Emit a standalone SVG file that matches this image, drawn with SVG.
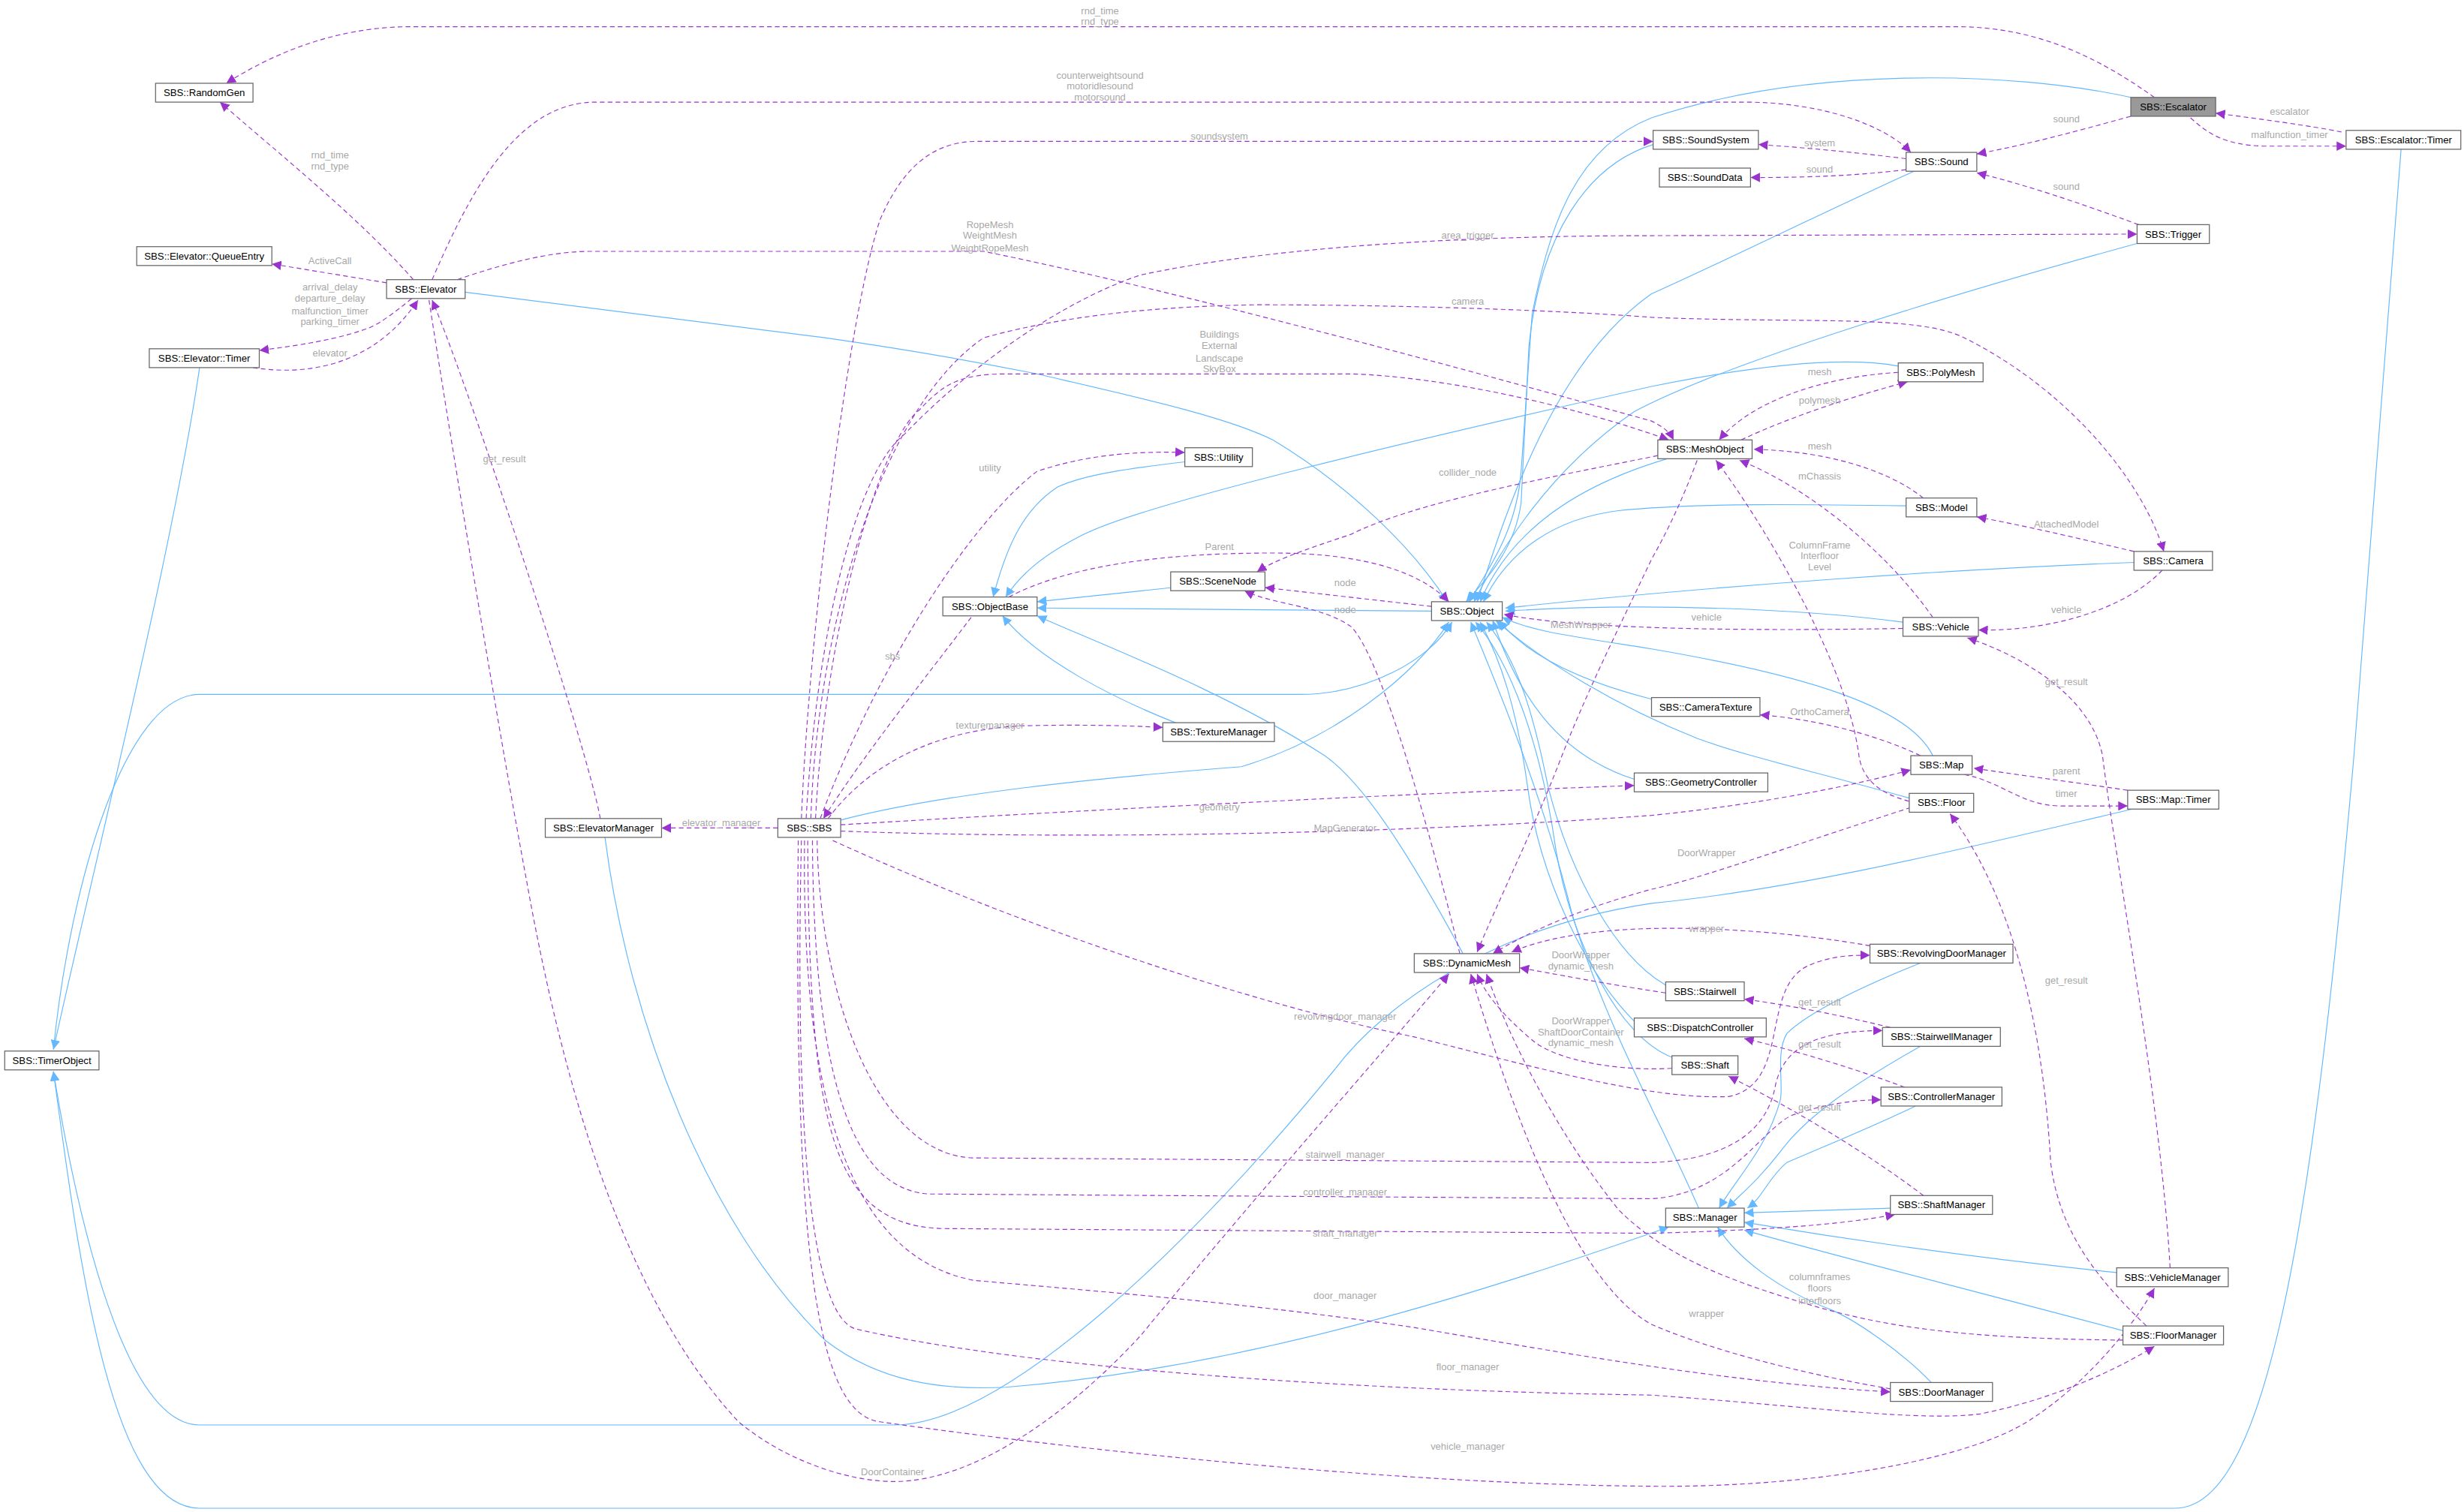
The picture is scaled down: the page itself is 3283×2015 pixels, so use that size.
<svg xmlns="http://www.w3.org/2000/svg" width="3283" height="2015" viewBox="0 0 3283 2015">
<style>
.n rect{fill:#fff;stroke:#666;stroke-width:0.6}
.n text{font-family:"Liberation Sans",Arial,sans-serif;font-size:6.3px;fill:#000;text-anchor:middle}
.b{fill:none;stroke:#63b8ff;stroke-width:0.55;marker-end:url(#ab)}
.u{fill:none;stroke:#9a32cd;stroke-width:0.55;stroke-dasharray:3,2;marker-end:url(#ap)}
.l{font-family:"Liberation Sans",Arial,sans-serif;font-size:6.2px;fill:#a8a8a8;text-anchor:middle}
</style>
<defs>
<marker id="ab" markerUnits="userSpaceOnUse" viewBox="0 0 10 10" refX="10" refY="5" markerWidth="6" markerHeight="6" orient="auto"><path d="M0,0L10,5L0,10z" fill="#63b8ff"/></marker>
<marker id="ap" markerUnits="userSpaceOnUse" viewBox="0 0 10 10" refX="10" refY="5" markerWidth="6" markerHeight="6" orient="auto"><path d="M0,0L10,5L0,10z" fill="#9a32cd"/></marker>
</defs>
<rect width="3283" height="2015" fill="#fff"/>
<g transform="scale(2.0937)">
<g id="edges">
<!-- inheritance -->
<path class="b" d="M296,186 L525,215 C560,220 610,228 660,238 C720,252 780,265 810,280 C860,310 900,350 921,383"/>
<path class="b" d="M1356,62 C1280,45 1150,42 1051,75 C1000,95 985,150 975,200 L968,300 C965,340 945,365 935,383"/>
<path class="b" d="M1052,92 C1010,105 980,150 973,220 L968,320 C964,350 945,370 933,383"/>
<path class="b" d="M1218,109 C1150,140 1100,165 1051,187 C990,230 960,320 940,383"/>
<path class="b" d="M1360,155 C1250,185 1100,230 1040,262 C985,300 955,350 938,383"/>
<path class="b" d="M1208,233 C1170,226 1110,234 1051,246 C900,280 730,320 690,340 C660,355 648,368 640,380"/>
<path class="b" d="M1061,292 C1000,310 960,340 942,383"/>
<path class="b" d="M1213,322 C1150,321 1080,320 1030,325 C990,330 960,350 944,383"/>
<path class="b" d="M1358,358 C1250,362 1100,372 958,387"/>
<path class="b" d="M1211,396 C1150,388 1050,383 958,389"/>
<path class="b" d="M1051,445 C1000,432 970,415 954,395"/>
<path class="b" d="M1040,496 C990,480 965,440 950,395"/>
<path class="b" d="M1230,481 C1215,450 1150,430 1051,413 C1000,405 975,402 956,393"/>
<path class="b" d="M1215,508 C1150,490 1110,481 1080,470 C1030,450 980,420 952,395"/>
<path class="b" d="M1060,627 C1030,610 1000,560 985,500 C975,450 965,420 946,396"/>
<path class="b" d="M1040,650 C1010,620 980,560 972,500 C965,450 955,420 942,396"/>
<path class="b" d="M1064,673 C1030,660 1000,600 990,540 C980,470 960,420 939,396"/>
<path class="b" d="M1081,769 C1060,720 1020,650 1000,580 C980,500 950,430 936,396"/>
<path class="b" d="M911,389 L660,387"/>
<path class="b" d="M746,374 L660,383"/>
<path class="b" d="M754,294 C720,298 690,302 673,310 C650,325 640,350 632,380"/>
<path class="b" d="M748,460 C710,445 660,420 638,392"/>
<path class="b" d="M535,522 C600,505 700,495 790,488 C850,470 900,430 922,396"/>
<path class="b" d="M931,607 C900,550 870,500 843,481 C780,440 700,410 660,392"/>
<path class="b" d="M127,234 C110,350 60,550 34,668"/>
<path class="b" d="M34,668 C45,560 80,442 127,442 L827,442 C870,442 910,420 924,396"/>
<path class="b" d="M1528,95 L1498,481 C1470,800 1440,960 1384,960 L127,960 C70,960 50,800 34,682"/>
<path class="b" d="M1357,515 C1250,540 1150,565 1051,575 C950,590 880,640 850,680 C760,790 640,907 569,907 L127,907 C80,907 50,780 34,682"/>
<path class="b" d="M385,533 C400,650 450,780 525,853 C560,880 600,885 640,883 C800,870 950,820 1062,781"/>
<path class="b" d="M1222,613 C1180,630 1150,645 1137,658 C1130,670 1135,690 1133,700 C1125,730 1105,750 1094,769"/>
<path class="b" d="M1222,666 C1180,690 1150,710 1133,733 C1120,750 1108,760 1099,769"/>
<path class="b" d="M1219,704 C1190,718 1160,730 1137,740 C1125,750 1122,762 1112,769"/>
<path class="b" d="M1203,769 L1110,772"/>
<path class="b" d="M1347,810 C1250,800 1170,788 1110,778"/>
<path class="b" d="M1351,847 C1250,820 1170,800 1110,783"/>
<path class="b" d="M1229,880 C1210,860 1180,840 1166,834 C1130,820 1105,800 1093,781"/>
<!-- usage -->
<path class="u" d="M1371,62 C1340,40 1300,17 1245,17 L261,17 C220,17 180,30 144,53"/>
<path class="u" d="M263,178 C230,140 180,100 140,65"/>
<path class="u" d="M275,178 C300,120 330,65 379,65 L1110,65 C1160,65 1200,80 1216,97"/>
<path class="u" d="M246,180 L173,168"/>
<path class="u" d="M262,190 C250,200 240,207 234,209 C215,216 190,220 165,223"/>
<path class="u" d="M161,234 C200,240 240,230 266,191"/>
<path class="u" d="M291,178 C320,168 350,160 375,160 L626,160 C750,185 950,240 1051,268 C1057,271 1062,274 1065,280"/>
<path class="u" d="M382,521 C375,480 300,250 275,191"/>
<path class="u" d="M273,191 C290,300 320,480 335,560 C360,700 400,830 470,905 C500,930 540,943 569,943 C620,943 680,900 726,850 C800,760 880,670 922,620"/>
<path class="u" d="M510,521 C515,400 540,200 560,140 C575,105 595,90 622,90 L1052,90"/>
<path class="u" d="M513,521 C520,400 545,300 576,276 C620,230 680,190 726,175 C820,155 950,150 1051,150 L1360,149"/>
<path class="u" d="M516,521 C520,400 560,260 626,215 C680,200 740,195 800,194 C900,194 1000,198 1051,202 C1150,206 1220,200 1250,215 C1320,250 1365,310 1377,351"/>
<path class="u" d="M519,521 C525,400 560,280 585,261 C600,245 610,238 640,238 L860,238 C920,240 1000,258 1062,280"/>
<path class="u" d="M522,521 C560,420 620,330 660,300 C690,290 720,287 754,288"/>
<path class="u" d="M618,393 C590,430 550,480 524,521"/>
<path class="u" d="M642,380 C680,360 740,352 810,352 C870,352 905,365 922,383"/>
<path class="u" d="M911,386 L805,374"/>
<path class="u" d="M929,607 C910,530 880,420 860,399 C840,385 810,385 792,376"/>
<path class="u" d="M1055,290 C980,305 900,320 860,340 C830,350 810,357 800,364"/>
<path class="u" d="M527,521 C550,490 590,465 650,462 C690,461 720,462 740,463"/>
<path class="u" d="M535,525 C700,515 900,505 1040,500"/>
<path class="u" d="M535,529 C700,535 900,530 1051,519 C1120,512 1180,500 1216,490"/>
<path class="u" d="M495,527 L421,527"/>
<path class="u" d="M530,535 C650,590 800,640 900,660 C980,680 1050,700 1100,698 C1140,690 1120,630 1150,615 C1165,608 1180,608 1190,608"/>
<path class="u" d="M520,535 C522,640 560,735 619,737 L1051,740 C1100,738 1125,720 1130,690 C1135,670 1150,656 1198,656"/>
<path class="u" d="M517,535 C518,680 540,758 592,760 L1051,763 C1100,760 1120,720 1140,710 C1160,703 1180,700 1197,700"/>
<path class="u" d="M514,535 C515,720 530,780 600,782 L1051,785 C1120,783 1170,780 1206,773"/>
<path class="u" d="M512,535 C510,700 540,800 620,815 C700,822 800,830 900,845 C1000,862 1100,880 1203,886"/>
<path class="u" d="M510,535 C505,750 520,840 545,846 C650,870 850,885 1051,888 C1150,895 1220,905 1260,900 C1310,890 1350,870 1371,857"/>
<path class="u" d="M508,535 C505,800 520,900 560,905 C700,925 900,945 1051,946 C1150,947 1250,930 1290,905 C1330,880 1360,840 1371,820"/>
<path class="u" d="M1190,602 C1150,595 1100,590 1051,591 C1010,592 980,598 962,606"/>
<path class="u" d="M1216,514 C1150,535 1080,560 1051,566 C1000,580 970,595 950,607"/>
<path class="u" d="M1060,632 C1020,626 990,620 967,616"/>
<path class="u" d="M1064,680 C1030,682 990,675 975,662 C955,645 945,632 940,620"/>
<path class="u" d="M1080,293 C1070,320 1060,340 1051,356 C1030,400 1010,440 994,481 C975,530 955,570 940,606"/>
<path class="u" d="M1351,853 C1250,852 1200,845 1150,830 C1100,815 1060,800 1030,770 C990,720 960,660 946,620"/>
<path class="u" d="M1203,884 C1150,875 1090,860 1051,843 C1000,815 960,700 936,620"/>
<path class="u" d="M1215,510 C1195,505 1185,495 1183,481 C1175,420 1120,330 1092,293"/>
<path class="u" d="M1230,393 C1200,350 1150,310 1107,293"/>
<path class="u" d="M1224,317 C1200,298 1160,287 1116,286"/>
<path class="u" d="M1208,237 C1160,240 1115,255 1094,280"/>
<path class="u" d="M1108,280 C1140,265 1180,252 1214,243"/>
<path class="u" d="M1358,351 C1320,342 1290,335 1258,329"/>
<path class="u" d="M1376,363 C1350,390 1300,402 1259,401"/>
<path class="u" d="M1211,400 C1100,402 1000,400 957,391"/>
<path class="u" d="M1222,481 C1200,470 1160,458 1120,455"/>
<path class="u" d="M1354,503 C1320,498 1290,494 1256,489"/>
<path class="u" d="M1250,493 C1275,498 1285,512 1310,513 L1354,513"/>
<path class="u" d="M1381,807 C1375,700 1345,540 1338,481 C1330,440 1280,415 1252,406"/>
<path class="u" d="M1366,844 C1330,810 1310,780 1305,740 C1300,650 1280,570 1241,518"/>
<path class="u" d="M1203,654 C1170,646 1140,640 1110,636"/>
<path class="u" d="M1212,692 C1180,680 1140,668 1110,661"/>
<path class="u" d="M1224,761 C1190,735 1140,705 1100,685"/>
<path class="u" d="M1356,74 C1320,84 1290,92 1258,98"/>
<path class="u" d="M1490,84 C1470,80 1440,76 1410,72"/>
<path class="u" d="M1394,75 C1405,85 1415,92 1440,93 L1493,93"/>
<path class="u" d="M1213,101 C1180,97 1150,94 1119,92"/>
<path class="u" d="M1213,108 C1180,112 1150,113 1114,113"/>
<path class="u" d="M1361,143 C1320,128 1290,118 1258,110"/>

<text class="l" x="700" y="9">rnd_time</text><text class="l" x="700" y="16">rnd_type</text>
<text class="l" x="210" y="101">rnd_time</text><text class="l" x="210" y="108">rnd_type</text>
<text class="l" x="700" y="50">counterweightsound</text><text class="l" x="700" y="57">motoridlesound</text><text class="l" x="700" y="64">motorsound</text>
<text class="l" x="210" y="168">ActiveCall</text>
<text class="l" x="210" y="185">arrival_delay</text><text class="l" x="210" y="192">departure_delay</text><text class="l" x="210" y="200">malfunction_timer</text><text class="l" x="210" y="207">parking_timer</text>
<text class="l" x="210" y="227">elevator</text>
<text class="l" x="630" y="145">RopeMesh</text><text class="l" x="630" y="152">WeightMesh</text><text class="l" x="630" y="160">WeightRopeMesh</text>
<text class="l" x="321" y="294">get_result</text>
<text class="l" x="568" y="939">DoorContainer</text>
<text class="l" x="776" y="89">soundsystem</text>
<text class="l" x="934" y="152">area_trigger</text>
<text class="l" x="934" y="194">camera</text>
<text class="l" x="776" y="215">Buildings</text><text class="l" x="776" y="222">External</text><text class="l" x="776" y="230">Landscape</text><text class="l" x="776" y="237">SkyBox</text>
<text class="l" x="630" y="300">utility</text>
<text class="l" x="568" y="420">sbs</text>
<text class="l" x="776" y="350">Parent</text>
<text class="l" x="856" y="373">node</text>
<text class="l" x="856" y="390">node</text>
<text class="l" x="934" y="303">collider_node</text>
<text class="l" x="630" y="464">texturemanager</text>
<text class="l" x="776" y="516">geometry</text>
<text class="l" x="856" y="529">MapGenerator</text>
<text class="l" x="459" y="526">elevator_manager</text>
<text class="l" x="856" y="649">revolvingdoor_manager</text>
<text class="l" x="856" y="737">stairwell_manager</text>
<text class="l" x="856" y="761">controller_manager</text>
<text class="l" x="856" y="787">shaft_manager</text>
<text class="l" x="856" y="827">door_manager</text>
<text class="l" x="934" y="872">floor_manager</text>
<text class="l" x="934" y="923">vehicle_manager</text>
<text class="l" x="1086" y="593">wrapper</text>
<text class="l" x="1006" y="610">DoorWrapper</text><text class="l" x="1006" y="617">dynamic_mesh</text>
<text class="l" x="1006" y="652">DoorWrapper</text><text class="l" x="1006" y="659">ShaftDoorContainer</text><text class="l" x="1006" y="666">dynamic_mesh</text>
<text class="l" x="1086" y="545">DoorWrapper</text>
<text class="l" x="1006" y="400">MeshWrapper</text>
<text class="l" x="1158" y="815">columnframes</text><text class="l" x="1158" y="822">floors</text><text class="l" x="1158" y="830">interfloors</text>
<text class="l" x="1086" y="838">wrapper</text>
<text class="l" x="1158" y="349">ColumnFrame</text><text class="l" x="1158" y="356">Interfloor</text><text class="l" x="1158" y="363">Level</text>
<text class="l" x="1158" y="305">mChassis</text>
<text class="l" x="1158" y="286">mesh</text>
<text class="l" x="1158" y="239">mesh</text>
<text class="l" x="1158" y="257">polymesh</text>
<text class="l" x="1315" y="336">AttachedModel</text>
<text class="l" x="1315" y="390">vehicle</text>
<text class="l" x="1086" y="395">vehicle</text>
<text class="l" x="1158" y="455">OrthoCamera</text>
<text class="l" x="1315" y="493">parent</text>
<text class="l" x="1315" y="507">timer</text>
<text class="l" x="1315" y="436">get_result</text>
<text class="l" x="1315" y="626">get_result</text>
<text class="l" x="1158" y="640">get_result</text>
<text class="l" x="1158" y="667">get_result</text>
<text class="l" x="1158" y="707">get_result</text>
<text class="l" x="1315" y="78">sound</text>
<text class="l" x="1457" y="73">escalator</text>
<text class="l" x="1457" y="88">malfunction_timer</text>
<text class="l" x="1158" y="93">system</text>
<text class="l" x="1158" y="110">sound</text>
<text class="l" x="1315" y="121">sound</text>
</g>
<g id="RandomGen" class="n"><rect x="99" y="53" width="62" height="12"/><text x="130" y="61.2">SBS::RandomGen</text></g>
<g id="QueueEntry" class="n"><rect x="87" y="157" width="86" height="12"/><text x="130" y="165.2">SBS::Elevator::QueueEntry</text></g>
<g id="Elevator" class="n"><rect x="246" y="178" width="50" height="12"/><text x="271" y="186.2">SBS::Elevator</text></g>
<g id="ElevatorTimer" class="n"><rect x="95" y="222" width="70" height="12"/><text x="130" y="230.2">SBS::Elevator::Timer</text></g>
<g id="TimerObject" class="n"><rect x="3" y="669" width="60" height="12"/><text x="33" y="677.2">SBS::TimerObject</text></g>
<g id="ElevatorManager" class="n"><rect x="347" y="521" width="74" height="12"/><text x="384" y="529.2">SBS::ElevatorManager</text></g>
<g id="SBS" class="n"><rect x="495" y="521" width="40" height="12"/><text x="515" y="529.2">SBS::SBS</text></g>
<g id="ObjectBase" class="n"><rect x="600" y="380" width="60" height="12"/><text x="630" y="388.2">SBS::ObjectBase</text></g>
<g id="Utility" class="n"><rect x="754" y="285" width="43" height="12"/><text x="775.5" y="293.2">SBS::Utility</text></g>
<g id="SceneNode" class="n"><rect x="745" y="364" width="60" height="12"/><text x="775" y="372.2">SBS::SceneNode</text></g>
<g id="TextureManager" class="n"><rect x="740" y="460" width="71" height="12"/><text x="775.5" y="468.2">SBS::TextureManager</text></g>
<g id="Object" class="n"><rect x="911" y="383" width="45" height="12"/><text x="933.5" y="391.2">SBS::Object</text></g>
<g id="DynamicMesh" class="n"><rect x="900" y="607" width="67" height="12"/><text x="933.5" y="615.2">SBS::DynamicMesh</text></g>
<g id="SoundSystem" class="n"><rect x="1052" y="83" width="67" height="12"/><text x="1085.5" y="91.2">SBS::SoundSystem</text></g>
<g id="SoundData" class="n"><rect x="1056" y="107" width="58" height="12"/><text x="1085" y="115.2">SBS::SoundData</text></g>
<g id="Sound" class="n"><rect x="1213" y="97" width="45" height="12"/><text x="1235.5" y="105.2">SBS::Sound</text></g>
<g id="Escalator" class="n"><rect x="1356" y="62" width="54" height="12" style="fill:#999"/><text x="1383" y="70.2">SBS::Escalator</text></g>
<g id="EscalatorTimer" class="n"><rect x="1493" y="83" width="73" height="12"/><text x="1529.5" y="91.2">SBS::Escalator::Timer</text></g>
<g id="Trigger" class="n"><rect x="1360" y="143" width="46" height="12"/><text x="1383" y="151.2">SBS::Trigger</text></g>
<g id="PolyMesh" class="n"><rect x="1208" y="231" width="54" height="12"/><text x="1235" y="239.2">SBS::PolyMesh</text></g>
<g id="MeshObject" class="n"><rect x="1055" y="280" width="60" height="12"/><text x="1085" y="288.2">SBS::MeshObject</text></g>
<g id="Model" class="n"><rect x="1213" y="317" width="45" height="12"/><text x="1235.5" y="325.2">SBS::Model</text></g>
<g id="Camera" class="n"><rect x="1358" y="351" width="50" height="12"/><text x="1383" y="359.2">SBS::Camera</text></g>
<g id="Vehicle" class="n"><rect x="1211" y="393" width="48" height="12"/><text x="1235" y="401.2">SBS::Vehicle</text></g>
<g id="CameraTexture" class="n"><rect x="1051" y="444" width="69" height="12"/><text x="1085.5" y="452.2">SBS::CameraTexture</text></g>
<g id="GeometryController" class="n"><rect x="1040" y="492" width="85" height="12"/><text x="1082.5" y="500.2">SBS::GeometryController</text></g>
<g id="Map" class="n"><rect x="1216" y="481" width="39" height="12"/><text x="1235.5" y="489.2">SBS::Map</text></g>
<g id="Floor" class="n"><rect x="1215" y="505" width="41" height="12"/><text x="1235.5" y="513.2">SBS::Floor</text></g>
<g id="MapTimer" class="n"><rect x="1354" y="503" width="58" height="12"/><text x="1383" y="511.2">SBS::Map::Timer</text></g>
<g id="RevolvingDoorManager" class="n"><rect x="1190" y="601" width="91" height="12"/><text x="1235.5" y="609.2">SBS::RevolvingDoorManager</text></g>
<g id="Stairwell" class="n"><rect x="1060" y="625" width="50" height="12"/><text x="1085" y="633.2">SBS::Stairwell</text></g>
<g id="DispatchController" class="n"><rect x="1040" y="648" width="84" height="12"/><text x="1082" y="656.2">SBS::DispatchController</text></g>
<g id="Shaft" class="n"><rect x="1064" y="672" width="42" height="12"/><text x="1085" y="680.2">SBS::Shaft</text></g>
<g id="StairwellManager" class="n"><rect x="1198" y="654" width="75" height="12"/><text x="1235.5" y="662.2">SBS::StairwellManager</text></g>
<g id="ControllerManager" class="n"><rect x="1197" y="692" width="77" height="12"/><text x="1235.5" y="700.2">SBS::ControllerManager</text></g>
<g id="Manager" class="n"><rect x="1060" y="769" width="50" height="12"/><text x="1085" y="777.2">SBS::Manager</text></g>
<g id="ShaftManager" class="n"><rect x="1203" y="761" width="65" height="12"/><text x="1235.5" y="769.2">SBS::ShaftManager</text></g>
<g id="VehicleManager" class="n"><rect x="1347" y="807" width="71" height="12"/><text x="1382.5" y="815.2">SBS::VehicleManager</text></g>
<g id="FloorManager" class="n"><rect x="1351" y="844" width="64" height="12"/><text x="1383" y="852.2">SBS::FloorManager</text></g>
<g id="DoorManager" class="n"><rect x="1203" y="880" width="65" height="12"/><text x="1235.5" y="888.2">SBS::DoorManager</text></g>
</g>
</svg>
